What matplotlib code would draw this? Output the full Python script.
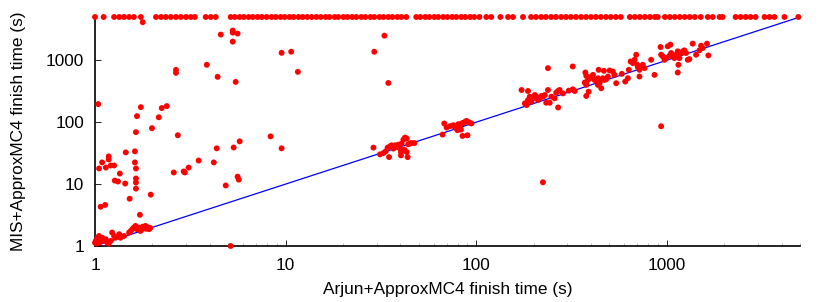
import matplotlib
matplotlib.use("Agg")
import matplotlib.pyplot as plt
from matplotlib.ticker import FixedLocator, LogLocator, NullFormatter

plt.rcParams['font.family'] = ['Liberation Sans', 'DejaVu Sans']

TIMEOUT = 5000

# instances where MIS+ApproxMC4 timed out (x = Arjun+ApproxMC4 time)
timeout_x = [1.0, 1.11, 1.26, 1.34, 1.42, 1.51, 1.60, 1.74,
             2.09, 2.22, 2.35, 2.50, 2.66, 2.82, 3.0, 3.18, 3.34,
             3.81, 4.05, 4.30,
             5.15, 5.41, 5.74, 6.03, 6.40, 6.72, 7.13, 7.49, 7.95, 8.45,
             8.87, 9.42, 9.88, 10.5, 11.0, 11.7, 12.3, 13.0, 13.7, 14.5,
             15.3, 16.2, 17.0, 18.1, 18.9, 20.1, 21.1, 22.4, 23.5, 25.0,
             26.2, 27.9, 29.2, 31.1, 32.6, 34.6, 36.3, 38.6, 40.5, 43.0,
             48.5, 50.9, 54.1, 56.7, 60.3, 63.2, 67.2, 70.5, 74.9, 78.6,
             83.5, 87.6, 93.0, 97.6, 104, 113, 120, 134, 147, 156, 176,
             194, 206, 219, 232, 247, 262, 279, 296, 314, 334,
             355, 377, 400, 425, 451, 480, 509, 541, 574,
             640, 680, 722, 767, 815, 865, 897, 977, 1037, 1102,
             1170, 1242, 1319, 1402, 1507, 1641, 1742, 1894, 1963,
             2297, 2439, 2594, 2754, 2924, 3260, 3461, 3675, 4146, 4900]

# solved by both
arjun = [
    # near (1,1) .. (2,2)
    1.0, 1.01, 1.03, 1.05, 1.09, 1.05, 1.11, 1.14, 1.16, 1.18, 1.21, 1.23,
    1.26, 1.28, 1.34, 1.36, 1.42, 1.51, 1.54, 1.57, 1.60, 1.63, 1.66, 1.70,
    1.73, 1.77, 1.80, 1.84, 1.88, 1.92, 1.02, 1.06, 1.12, 1.72, 1.78, 1.85,
    1.90, 1.95,
    # upper left scatter
    1.78, 4.57, 5.28, 5.28, 5.28, 5.6, 3.86, 2.66, 2.66, 4.40, 5.47, 9.53,
    10.7, 11.6, 29.2, 33.0, 34.6, 1.04, 1.74, 1.66, 2.38, 2.24, 2.16, 1.99,
    1.64, 2.72, 8.34, 9.53, 4.35, 5.34, 5.74, 1.18, 1.18, 1.09, 1.05, 1.14,
    1.21, 1.26, 1.45, 1.62, 1.62, 1.64, 1.64, 1.64, 1.64, 1.27, 1.32, 1.35,
    1.44, 1.52, 1.72, 1.07, 1.13, 1.96, 2.59, 2.92, 2.96, 3.1, 3.5, 4.2,
    4.85, 5.6, 5.68, 5.15,
    # cluster near 40
    28.9, 31.3, 32.6, 33.5, 34.3, 34.9, 35.3, 36.0, 36.8, 37.5, 38.3, 39.1,
    39.8, 40.3, 40.6, 41.5, 42.0, 42.3, 43.2, 43.2, 43.7, 44.0, 45.0, 45.8,
    47.4, 40.3,
    # cluster near 80
    68.0, 69.9, 72.8, 75.8, 77.3, 78.8, 80.5, 82.2, 83.8, 85.5, 87.3, 89.0,
    90.8, 92.7, 94.5, 66.6, 84.8, 90.0, 79.8, 83.2,
    # 170 .. 1700
    173, 187, 180, 184, 187, 191, 195, 199, 203, 207, 211, 215, 220, 224,
    229, 233, 238, 243, 248, 258, 263, 269, 274, 269, 285, 306, 321, 329,
    238, 321, 374, 378, 371, 378, 386, 394, 402, 410, 418, 427, 435, 444,
    453, 462, 472, 481, 491, 501, 521, 532, 543, 378, 389, 439, 468, 378,
    453, 435, 581, 605, 625, 632, 646, 664, 678, 691, 700, 705, 719, 734,
    748, 719, 764, 828, 862, 927, 934, 953, 973, 991, 1012, 1033, 1045,
    1054, 1075, 1097, 1120, 1142, 1165, 1151, 1142, 1189, 1213, 1237, 1262,
    1288, 1314, 1368, 1425, 1483, 1513, 1543, 1625, 1652, 934, 224,
]
mis = [
    1.13, 1.21, 1.36, 1.45, 1.36, 1.13, 1.21, 1.28, 1.13, 1.09, 1.21, 1.65,
    1.45, 1.36, 1.55, 1.36, 1.45, 1.65, 1.75, 1.87, 1.99, 2.11, 1.87, 1.99,
    1.75, 1.87, 1.99, 2.11, 1.99, 1.87, 1.1, 1.18, 1.25, 1.92, 2.05, 1.9,
    2.0, 1.95,
    4120, 2600, 3020, 2800, 2000, 2700, 845, 700, 626, 540, 447, 1320,
    1375, 650, 1375, 2500, 430, 196, 175, 125, 182, 169, 120, 80,
    69, 61.5, 59, 37.8, 37.8, 39, 49, 28, 25, 22.4, 17.9, 18.5,
    20, 20, 32.5, 33.8, 22.4, 17.9, 12.3, 10.6, 8.45, 11.4, 11.0, 14.8,
    10.2, 5.8, 3.19, 4.3, 4.6, 6.75, 15.4, 16.0, 15.4, 18.5, 24, 22.4,
    9.5, 13.2, 11.8, 1.0,
    38.8, 30.2, 31.7, 33.8, 38.8, 27.3, 40.7, 42.3, 37.4, 42.3, 39.7, 43.4,
    37.4, 32.9, 45.1, 52.3, 36.0, 56.4, 54.3, 32.9, 27.3, 43.9, 45.1, 46.0,
    46.0, 29.1,
    95.3, 82.0, 86.1, 89.3, 83.9, 79.0, 92.8, 89.3, 95.3, 97.5, 101, 105,
    101, 97.5, 95.3, 63.1, 60.0, 61.5, 74.1, 76.0,
    331, 319, 201, 189, 228, 258, 214, 243, 275, 258, 228, 243, 265, 258,
    275, 206, 331, 206, 258, 243, 300, 319, 331, 173, 292, 323, 340, 319,
    746, 794, 634, 560, 436, 426, 482, 513, 546, 581, 482, 453, 513, 426,
    482, 513, 482, 494, 546, 684, 658, 581, 426, 265, 311, 701, 675, 400,
    353, 400, 603, 453, 513, 701, 957, 899, 1019, 1228, 845, 774, 701, 794,
    845, 546, 746, 1019, 581, 1638, 1228, 1154, 1019, 1084, 1679, 1184, 1787,
    1310, 1154, 1084, 1228, 1393, 1084, 845, 634, 1310, 1393, 1445, 1310,
    1019, 1045, 1855, 1228, 1445, 1720, 1578, 1855, 1198, 86, 10.7,
]

diag = [1, 5000]

fig = plt.figure(figsize=(8.3, 3.02), dpi=100)
ax = fig.add_axes([95 / 830, 1 - 246 / 302, 705 / 830, 229 / 302])

ax.plot(diag, diag, color='#0000ff', lw=0.9, zorder=2)
ax.scatter(arjun, mis, s=18, color='#ff0000', edgecolors='none', zorder=3, clip_on=False)
ax.scatter(timeout_x, [TIMEOUT] * len(timeout_x), s=18, color='#ff0000',
           edgecolors='none', zorder=3, clip_on=False)

ax.set_xscale('log')
ax.set_yscale('log')
ax.set_xlim(1, 5000)
ax.set_ylim(1, 5000)

ax.spines['top'].set_visible(False)
ax.spines['right'].set_visible(False)
ax.spines['left'].set_linewidth(1.2)
ax.spines['bottom'].set_linewidth(1.2)

ax.xaxis.set_major_locator(FixedLocator([1, 10, 100, 1000]))
ax.yaxis.set_major_locator(FixedLocator([1, 10, 100, 1000]))
ax.set_xticklabels(['1', '10', '100', '1000'])
ax.set_yticklabels(['1', '10', '100', '1000'])
ax.xaxis.set_minor_locator(LogLocator(base=10, subs=range(2, 10)))
ax.xaxis.set_minor_formatter(NullFormatter())
ax.yaxis.set_minor_locator(FixedLocator([]))
ax.tick_params(axis='both', which='major', direction='in', length=4, width=0.6,
               labelsize=12.4)
ax.tick_params(axis='x', which='major', pad=9)
ax.tick_params(axis='y', which='major', pad=8)
ax.tick_params(axis='x', which='minor', direction='in', length=2, width=0.5,
               color='#999999')

ax.set_xlabel('Arjun+ApproxMC4 finish time (s)', fontsize=12.4, labelpad=6)
ax.set_ylabel('MIS+ApproxMC4 finish time (s)', fontsize=12.4, labelpad=14)

fig.savefig('out.png', dpi=100)
